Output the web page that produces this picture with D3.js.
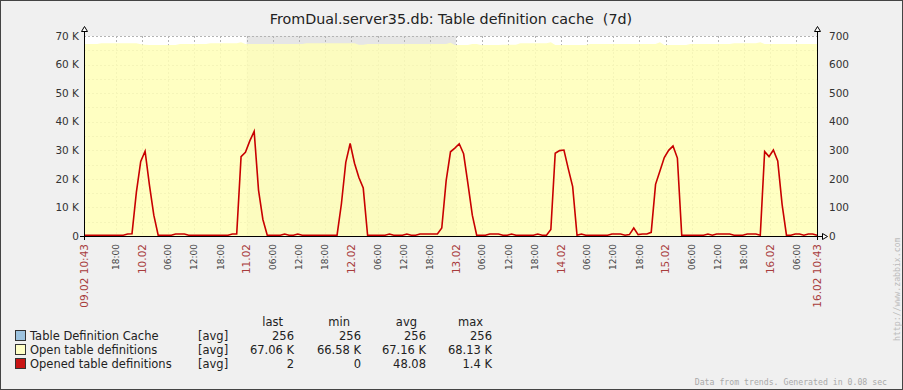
<!DOCTYPE html>
<html>
<head>
<meta charset="utf-8">
<script src="https://cdn.jsdelivr.net/npm/d3@7"></script>
<style>
body { margin: 0; background: #f0f0f0; }
svg { display: block; font-family: "DejaVu Sans", sans-serif; }
</style>
</head>
<body>
<div id="app"></div>
<script>
const WIDTH = 903
const HEIGHT = 390
const LEFT = 84, RIGHT = 817, TOP = 36, BOTTOM = 236

const title = 'FromDual.server35.db: Table definition cache  (7d)'
const start = Date.UTC(2012, 1, 9, 10, 43)
const end = Date.UTC(2012, 1, 16, 10, 43)
// non working time (weekend), drawn grey behind the data
const offTime = [Date.UTC(2012, 1, 11), Date.UTC(2012, 1, 13)]

const leftTicks = [0, 10000, 20000, 30000, 40000, 50000, 60000, 70000]
const rightTicks = [0, 100, 200, 300, 400, 500, 600, 700]

// hourly trend values from 09.02 10:43
const openDefs = [
  67200, 67200, 67200, 67200, 67450, 67450, 67450, 67450, 67450, 67450, 67450, 67450,
  67450, 67150, 66900, 66850, 66850, 66850, 66850, 66850, 66850, 66850, 67200, 67200,
  67200, 67200, 67200, 67200, 67200, 67450, 67450, 67450, 67450, 67450, 67450, 67450,
  67800, 67200, 67200, 67200, 67200, 67200, 67200, 67200, 67200, 67200, 67200, 67200,
  67200, 67200, 67200, 67450, 67450, 67450, 67450, 67450, 67450, 67450, 67450, 67450,
  67450, 67450, 67450, 66900, 66900, 67200, 67200, 67200, 67200, 67200, 67200, 67200,
  67200, 67200, 67200, 67200, 67200, 67200, 67200, 67200, 67200, 67200, 67200, 67200,
  67600, 66850, 66850, 66850, 66850, 67200, 67200, 66850, 66850, 66850, 66850, 66850,
  66950, 66950, 66950, 66950, 67450, 67450, 67450, 67450, 67450, 67450, 67450, 67800,
  66850, 66850, 66850, 66850, 66850, 66850, 66850, 66850, 67200, 67200, 67200, 67200,
  67200, 67200, 67200, 67200, 67200, 67200, 67200, 67200, 67200, 67200, 67200, 67200,
  67800, 66850, 66850, 66850, 66850, 66850, 66850, 67200, 67200, 67200, 67200, 67200,
  67200, 67200, 67200, 67200, 67200, 67450, 67450, 67450, 67450, 67450, 67450, 67800,
  67200, 67200, 67200, 67200, 67200, 67200, 67200, 67200, 67200, 67200, 67200, 67200, 67200
]

const openedDefs = [
  0, 0, 0, 0, 0, 0, 0, 0, 0, 0, 4, 5,
  150, 258, 294, 175, 70, 0, 0, 0, 0, 4, 4, 4,
  0, 0, 0, 0, 0, 0, 0, 0, 0, 0, 4, 4,
  275, 290, 330, 363, 158, 55, 0, 0, 0, 0, 4, 0,
  0, 4, 0, 0, 0, 0, 0, 0, 0, 0, 0, 110,
  255, 321, 252, 202, 165, 0, 0, 0, 0, 0, 4, 0,
  0, 0, 4, 0, 0, 4, 4, 4, 4, 4, 25, 190,
  292, 305, 320, 285, 180, 70, 0, 0, 0, 4, 4, 4,
  0, 0, 4, 0, 0, 0, 0, 0, 4, 0, 0, 20,
  287, 296, 298, 232, 170, 0, 4, 0, 0, 0, 0, 0,
  0, 4, 4, 4, 0, 2, 25, 2, 4, 4, 10, 178,
  225, 272, 297, 312, 270, 0, 0, 0, 0, 0, 0, 4,
  0, 4, 4, 4, 4, 0, 0, 0, 4, 4, 4, 0,
  293, 275, 298, 260, 108, 0, 0, 4, 4, 0, 4, 4, 0
]

const legendNames = ['Table Definition Cache', 'Open table definitions', 'Opened table definitions']
const legendColors = ['#9dc3df', '#ffffc6', '#c81414']
const legendHeads = ['last', 'min', 'avg', 'max']
const legendLast = ['256', '67.06 K', '2']
const legendMin = ['256', '66.58 K', '0']
const legendAvg = ['256', '67.16 K', '48.08']
const legendMax = ['256', '68.13 K', '1.4 K']

const x = d3.scaleUtc().domain([start, end]).range([LEFT, RIGHT])
const yL = d3.scaleLinear().domain([0, 70000]).range([BOTTOM, TOP])
const yR = d3.scaleLinear().domain([0, 700]).range([BOTTOM, TOP])
const hour = i => start + i * 3600e3

const svg = d3.select('#app').append('svg')
  .attr('width', WIDTH)
  .attr('height', HEIGHT)

svg.append('rect')
  .attr('x', .5).attr('y', .5)
  .attr('width', WIDTH - 1).attr('height', HEIGHT - 1)
  .attr('fill', '#f0f0f0')
  .attr('stroke', '#444')

svg.append('text')
  .attr('x', 451).attr('y', 24)
  .attr('text-anchor', 'middle')
  .style('white-space', 'pre')
  .attr('font-size', 14.3)
  .attr('fill', '#222')
  .text(title)

// plot background: white work time, grey off time
svg.append('rect')
  .attr('x', LEFT).attr('y', TOP)
  .attr('width', RIGHT - LEFT).attr('height', BOTTOM - TOP)
  .attr('fill', '#fff')

svg.append('rect')
  .attr('x', x(offTime[0])).attr('y', TOP)
  .attr('width', x(offTime[1]) - x(offTime[0])).attr('height', BOTTOM - TOP)
  .attr('fill', '#e6e6e6')

// grid
const grid = svg.append('g')
  .attr('stroke', '#b4b4b4')
  .attr('stroke-dasharray', '2,2')

grid.selectAll('line.h')
  .data(yL.ticks(14))
  .enter()
.append('line')
  .attr('x1', LEFT).attr('x2', RIGHT)
  .attr('y1', d => Math.round(yL(d)) + .5)
  .attr('y2', d => Math.round(yL(d)) + .5)

// every 6 hours, but not too close to the start / end labels
const sixHours = d3.utcHour.every(6).range(start + 1, end)
  .filter(d => x(d) - LEFT > 12 && RIGHT - x(d) > 12)

grid.selectAll('line.v')
  .data(sixHours)
  .enter()
.append('line')
  .attr('x1', d => Math.round(x(d)) + .5)
  .attr('x2', d => Math.round(x(d)) + .5)
  .attr('y1', TOP).attr('y2', BOTTOM)

// Open table definitions (left axis)
svg.append('path')
  .datum(openDefs)
  .attr('fill', '#ffffb8')
  .attr('fill-opacity', .86)
  .attr('d', d3.area()
    .x((d, i) => x(hour(i)))
    .y0(BOTTOM)
    .y1(d => yL(d)))

// Opened table definitions (right axis)
svg.append('path')
  .datum(openedDefs)
  .attr('fill', 'none')
  .attr('stroke', '#c80000')
  .attr('stroke-width', 1.6)
  .attr('d', d3.line()
    .x((d, i) => x(hour(i)))
    .y(d => yR(d) - .8))

// axes
const axes = svg.append('g')
  .attr('stroke', '#000')
  .attr('fill', '#fff')

axes.append('line')
  .attr('x1', LEFT + .5).attr('x2', LEFT + .5)
  .attr('y1', 31).attr('y2', 240)
axes.append('line')
  .attr('x1', RIGHT + .5).attr('x2', RIGHT + .5)
  .attr('y1', 31).attr('y2', 240)
axes.append('line')
  .attr('x1', 80).attr('x2', 822)
  .attr('y1', BOTTOM + .5).attr('y2', BOTTOM + .5)

axes.selectAll('path.arrowUp')
  .data([LEFT, RIGHT])
  .enter()
.append('path')
  .attr('d', d => `M${d + .5},26.5 L${d + 3.5},31.5 L${d - 2.5},31.5 Z`)

axes.append('path')
  .attr('d', `M827.5,${BOTTOM + .5} L822.5,${BOTTOM - 2.5} L822.5,${BOTTOM + 3.5} Z`)

const fmtK = d => d === 0 ? '0' : (d / 1000) + ' K'

svg.append('g')
  .attr('font-size', 10.5)
  .attr('fill', '#333')
  .attr('text-anchor', 'end')
.selectAll('text')
  .data(leftTicks)
  .enter()
.append('text')
  .attr('x', 79)
  .attr('y', d => yL(d))
  .attr('dy', '.35em')
  .text(fmtK)

svg.append('g')
  .attr('font-size', 10.5)
  .attr('fill', '#333')
.selectAll('text')
  .data(rightTicks)
  .enter()
.append('text')
  .attr('x', 829)
  .attr('y', d => yR(d))
  .attr('dy', '.35em')
  .text(d => d)

// time labels
const isMidnight = d => d.getUTCHours() === 0
const xLabels = svg.append('g')
  .attr('text-anchor', 'end')

xLabels.selectAll('text.t')
  .data(sixHours)
  .enter()
.append('text')
  .attr('transform', d => `translate(${x(d)},244) rotate(-90)`)
  .attr('dy', '.35em')
  .attr('font-size', d => isMidnight(d) ? 10.5 : 9)
  .attr('fill', d => isMidnight(d) ? '#a83c3c' : '#444')
  .text(d => isMidnight(d) ? d3.utcFormat('%d.%m')(d) : d3.utcFormat('%H:%M')(d))

xLabels.selectAll('text.edge')
  .data([start, end])
  .enter()
.append('text')
  .attr('transform', d => `translate(${x(d)},244) rotate(-90)`)
  .attr('dy', '.35em')
  .attr('font-size', 10.5)
  .attr('fill', '#a83c3c')
  .text(d => d3.utcFormat('%d.%m %H:%M')(new Date(d)))

// legend
const legend = svg.append('g')
  .attr('font-size', 11.5)
  .attr('fill', '#222')

const colRight = [294, 361, 426, 492]
const headRight = [283, 350, 417, 483]

legend.selectAll('text.head')
  .data(legendHeads)
  .enter()
.append('text')
  .attr('x', (d, i) => headRight[i])
  .attr('y', 322)
  .attr('dy', '.35em')
  .attr('text-anchor', 'end')
  .text(d => d)

const rows = legend.selectAll('g.row')
  .data(legendNames)
  .enter()
.append('g')
  .attr('transform', (d, i) => `translate(0, ${336 + i * 14})`)

rows.append('rect')
  .attr('x', 15.5).attr('y', -5.5)
  .attr('width', 10).attr('height', 10)
  .attr('fill', (d, i) => legendColors[i])
  .attr('stroke', '#333')

rows.append('text')
  .attr('x', 30)
  .attr('dy', '.35em')
  .text(d => d)

rows.append('text')
  .attr('x', 198)
  .attr('dy', '.35em')
  .text('[avg]')

const cols = [legendLast, legendMin, legendAvg, legendMax]
cols.forEach((col, c) => {
  rows.append('text')
    .attr('x', colRight[c])
    .attr('dy', '.35em')
    .attr('text-anchor', 'end')
    .text((d, i) => col[i])
})

svg.append('text')
  .attr('x', 887).attr('y', 385)
  .attr('text-anchor', 'end')
  .attr('font-family', '"DejaVu Sans Mono", monospace')
  .attr('font-size', 8.2)
  .attr('fill', '#aaa')
  .text('Data from trends. Generated in 0.08 sec')

svg.append('text')
  .attr('transform', 'translate(897,341) rotate(-90)')
  .attr('dy', '.35em')
  .attr('font-family', '"DejaVu Sans Mono", monospace')
  .attr('font-size', 8.2)
  .attr('fill', '#bbb')
  .text('http://www.zabbix.com')
</script>
</body>
</html>
